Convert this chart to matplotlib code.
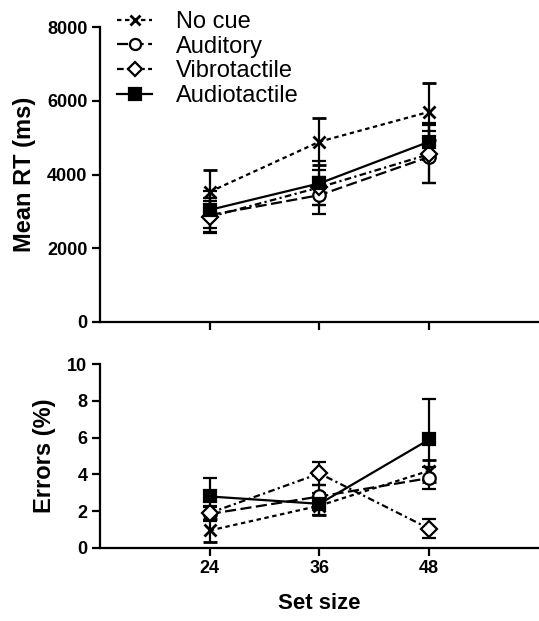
import matplotlib
matplotlib.use("Agg")
import matplotlib.pyplot as plt
from matplotlib.lines import Line2D

plt.rcParams['font.family'] = ['Liberation Sans', 'DejaVu Sans']
plt.rcParams['font.weight'] = 'bold'

set_size = [24, 36, 48]
series = ["No cue", "Auditory", "Vibrotactile", "Audiotactile"]

rt_nocue = [3530, 4890, 5700]
rt_aud = [2900, 3440, 4480]
rt_vib = [2850, 3650, 4550]
rt_at = [3040, 3760, 4890]
rt_err_nocue = [590, 630, 770]
rt_err_aud = [450, 500, 700]
rt_err_vib = [430, 480, 780]
rt_err_at = [500, 600, 500]

er_nocue = [0.95, 2.3, 4.2]
er_aud = [1.85, 2.8, 3.8]
er_vib = [1.9, 4.05, 1.05]
er_at = [2.8, 2.4, 5.9]
er_err_nocue = [0.6, 0.5, 0.6]
er_err_aud = [0.4, 0.6, 0.6]
er_err_vib = [0.4, 0.6, 0.5]
er_err_at = [1.0, 0.6, 2.2]

styles = {
    "No cue": dict(marker='x', ls=(0, (2, 1.6)), mfc='black', ms=8, mew=2),
    "Auditory": dict(marker='o', ls=(0, (5, 2)), mfc='white', ms=9, mew=1.6),
    "Vibrotactile": dict(marker='D', ls=(0, (3, 1.5, 1, 1.5)), mfc='white', ms=8, mew=1.6),
    "Audiotactile": dict(marker='s', ls='-', mfc='black', ms=9, mew=1.6),
}

rt = {"No cue": (rt_nocue, rt_err_nocue), "Auditory": (rt_aud, rt_err_aud),
      "Vibrotactile": (rt_vib, rt_err_vib), "Audiotactile": (rt_at, rt_err_at)}
er = {"No cue": (er_nocue, er_err_nocue), "Auditory": (er_aud, er_err_aud),
      "Vibrotactile": (er_vib, er_err_vib), "Audiotactile": (er_at, er_err_at)}

fig = plt.figure(figsize=(5.39, 6.21), dpi=100)
ax1 = fig.add_axes([0.1855, 0.4815, 0.8145, 0.475])
ax2 = fig.add_axes([0.1855, 0.1176, 0.8145, 0.2962])

handles = []
for s in series:
    st = styles[s]
    for ax, d in ((ax1, rt), (ax2, er)):
        y, e = d[s]
        ax.errorbar(set_size, y, yerr=e, color='black', lw=1.6, ls=st['ls'],
                    marker=st['marker'], mfc=st['mfc'], mec='black',
                    ms=st['ms'], mew=st['mew'], capsize=5, capthick=1.6,
                    elinewidth=1.6)
    handles.append(Line2D([], [], color='black', lw=1.6, ls=st['ls'],
                          marker=st['marker'], mfc=st['mfc'], mec='black',
                          ms=st['ms'] - 1, mew=st['mew'], label=s))

for ax in (ax1, ax2):
    ax.spines['top'].set_visible(False)
    ax.spines['right'].set_visible(False)
    ax.spines['left'].set_linewidth(1.6)
    ax.spines['bottom'].set_linewidth(1.6)
    ax.set_xlim(12, 60)
    ax.set_xticks(set_size)
    ax.tick_params(width=1.6, length=6, labelsize=13, pad=3)

ax1.set_ylim(0, 8000)
ax1.set_yticks([0, 2000, 4000, 6000, 8000])
ax1.set_xticklabels([])
ax1.set_ylabel("Mean RT (ms)", fontsize=17, fontweight='bold', labelpad=8)

ax2.set_ylim(0, 10)
ax2.set_yticks([0, 2, 4, 6, 8, 10])
ax2.set_ylabel("Errors (%)", fontsize=17, fontweight='bold', labelpad=8)
ax2.set_xlabel("Set size", fontsize=16, fontweight='bold', labelpad=11)
for lbl in ax1.get_yticklabels() + ax2.get_yticklabels() + ax2.get_xticklabels():
    lbl.set_fontweight('bold')

leg = ax1.legend(handles=handles, loc='upper left', bbox_to_anchor=(-0.01, 1.127),
                 frameon=False, fontsize=17, handlelength=1.5, handletextpad=1.0,
                 labelspacing=0.12)
for t in leg.get_texts():
    t.set_fontweight('normal')

fig.savefig("out.png", dpi=100)
